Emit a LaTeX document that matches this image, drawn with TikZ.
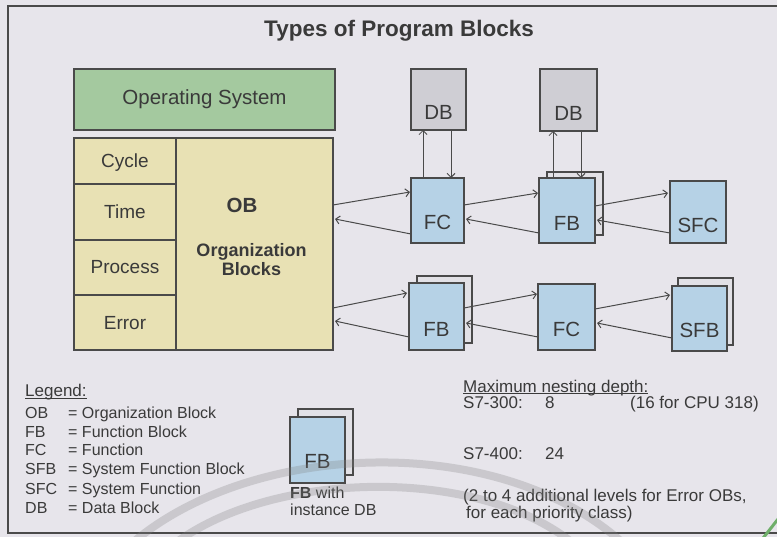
\documentclass[tikz,border=0pt]{standalone}
\usepackage{fontspec}
\setmainfont{Liberation Sans}
\usetikzlibrary{arrows.meta}
\definecolor{bg}{HTML}{E7E5EB}
\definecolor{lc}{HTML}{4A4A4A}
\definecolor{txt}{HTML}{3A3A3A}
\definecolor{osg}{HTML}{A4C99F}
\definecolor{khaki}{HTML}{E8E1B4}
\definecolor{dbg}{HTML}{CFCED4}
\definecolor{blu}{HTML}{B6D2E6}
\definecolor{backc}{HTML}{E2E1E6}
\definecolor{wmgreen}{HTML}{6FAF6A}
\newcommand\pxfont[1]{\fontsize{#1}{#1}\selectfont}
\newcommand\ulbase[1]{\setbox0\hbox{#1}\rlap{\rule[-2pt]{\wd0}{0.8pt}}\box0}
\begin{document}
\begin{tikzpicture}[x=1pt,y=-1pt,
  blk/.style={draw=lc, line width=1.1pt, inner sep=0pt, outer sep=0pt, anchor=north west},
  tbox/.style={text=txt, inner sep=0pt, font=\pxfont{20.5}, anchor=base},
  tcell/.style={text=txt, inner sep=0pt, font=\pxfont{19}, anchor=base},
  tleg/.style={text=txt, inner sep=0pt, font=\pxfont{16}, anchor=base west},
  tright/.style={text=txt, inner sep=0pt, font=\pxfont{17}, anchor=base west},
  arr/.style={draw=lc, line width=1pt, -{Straight Barb[length=4pt,width=8pt]}},
  wm/.style={draw=gray, line width=8pt, opacity=0.28}
]
\useasboundingbox (0,0) rectangle (777,537);
\fill[bg] (0,0) rectangle (777,537);
\draw[lc, line width=1.2pt] (8,6) rectangle (800,533);

% title
\node[text=txt, inner sep=0pt, anchor=base, font=\pxfont{22.5}\bfseries] (title) at (399,37) {Types of Program Blocks};

% operating system
\node[blk, fill=osg, minimum width=261pt, minimum height=61pt] (os) at (74,69) {};
\node[text=txt, inner sep=0pt, font=\pxfont{20.5}] (ost) at (os.center) {Operating System};

% OB cells
\node[blk, fill=khaki, minimum width=102pt, minimum height=46pt] (cyc) at (74,138) {};
\node[blk, fill=khaki, minimum width=102pt, minimum height=56pt] (tim) at (74,184) {};
\node[blk, fill=khaki, minimum width=102pt, minimum height=55pt] (pro) at (74,240) {};
\node[blk, fill=khaki, minimum width=102pt, minimum height=55pt] (err) at (74,295) {};
\node[blk, fill=khaki, minimum width=157pt, minimum height=212pt] (ob) at (176,138) {};
\node[tcell] (cyct) at (125,168) {Cycle};
\node[tcell] (timt) at (125,219) {Time};
\node[tcell] (prot) at (125,274) {Process};
\node[tcell] (errt) at (125,330) {Error};
\node[text=txt, inner sep=0pt, anchor=base, font=\pxfont{20.5}\bfseries] (obt) at (242,213) {OB};
\node[text=txt, inner sep=0pt, anchor=base, font=\pxfont{18}\bfseries] (obt1) at (251.5,257) {Organization};
\node[text=txt, inner sep=0pt, anchor=base, font=\pxfont{18}\bfseries] (obt2) at (251.5,276) {Blocks};

% data blocks
\node[blk, fill=dbg, minimum width=55pt, minimum height=61pt] (db1) at (411,69) {};
\node[blk, fill=dbg, minimum width=57pt, minimum height=62pt] (db2) at (540,69) {};
\node[tbox] (db1t) at ([yshift=10pt]db1.south) {DB};
\node[tbox] (db2t) at ([yshift=10pt]db2.south) {DB};

% top row
\node[blk, fill=blu, minimum width=53pt, minimum height=65pt] (fc1) at (411,178) {};
\node[blk, fill=backc, minimum width=56pt, minimum height=63pt] (fb1b) at (547,172) {};
\node[blk, fill=blu, minimum width=56pt, minimum height=65pt] (fb1) at (539,178) {};
\node[blk, fill=blu, minimum width=56pt, minimum height=62pt] (sfc) at (670,181) {};
\node[tbox] (fc1t) at ([yshift=13pt]fc1.south) {FC};
\node[tbox] (fb1t) at ([yshift=12pt]fb1.south) {FB};
\node[tbox] (sfct) at ([yshift=10pt]sfc.south) {SFC};

% bottom row
\node[blk, fill=backc, minimum width=55pt, minimum height=67pt] (fb2b) at (417,276) {};
\node[blk, fill=blu, minimum width=55pt, minimum height=67pt] (fb2) at (409,283) {};
\node[blk, fill=blu, minimum width=57pt, minimum height=66pt] (fc2) at (538,284) {};
\node[blk, fill=backc, minimum width=55pt, minimum height=67pt] (sfbb) at (678,278) {};
\node[blk, fill=blu, minimum width=55pt, minimum height=65pt] (sfb) at (672,286) {};
\node[tbox] (fb2t) at ([yshift=13pt]fb2.south) {FB};
\node[tbox] (fc2t) at ([yshift=13pt]fc2.south) {FC};
\node[tbox] (sfbt) at ([yshift=13pt]sfb.south) {SFB};

% arrows top
\draw[arr] ([yshift=-67pt]ob.north east) -- ([xshift=-1pt,yshift=-14pt]fc1.north west);
\draw[arr] ([yshift=-56pt]fc1.north west) -- ([xshift=2pt,yshift=-81pt]ob.north east);
\draw[arr] ([yshift=-27pt]fc1.north east) -- ([xshift=-1pt,yshift=-15pt]fb1.north west);
\draw[arr] ([yshift=-55pt]fb1.north west) -- ([xshift=2pt,yshift=-41pt]fc1.north east);
\draw[arr] ([yshift=-28pt]fb1.north east) -- ([xshift=-2pt,yshift=-12pt]sfc.north west);
\draw[arr] ([yshift=-52pt]sfc.north west) -- ([xshift=2pt,yshift=-42pt]fb1.north east);
\draw[arr, line width=0.8pt] ([xshift=12pt]fc1.north west) -- ([xshift=12pt]db1.south west);
\draw[arr] ([xshift=40pt]db1.south west) -- ([xshift=40pt]fc1.north west);
\draw[arr, line width=0.8pt] ([xshift=14pt]fb1.north west) -- ([xshift=13pt]db2.south west);
\draw[arr] ([xshift=41pt]db2.south west) -- ([xshift=42pt]fb1.north west);

% arrows bottom
\draw[arr] ([yshift=42pt]ob.south east) -- ([xshift=-2pt,yshift=-10pt]fb2.north west);
\draw[arr] ([yshift=-54pt]fb2.north west) -- ([xshift=2pt,yshift=29pt]ob.south east);
\draw[arr] ([yshift=-25pt]fb2.north east) -- ([xshift=-1pt,yshift=-10pt]fc2.north west);
\draw[arr] ([yshift=-53pt]fc2.north west) -- ([xshift=2pt,yshift=-40pt]fb2.north east);
\draw[arr] ([yshift=-25pt]fc2.north east) -- ([xshift=-2pt,yshift=-9pt]sfb.north west);
\draw[arr] ([yshift=-52pt]sfb.north west) -- ([xshift=2pt,yshift=-39pt]fc2.north east);

% legend
\node[text=txt, inner sep=0pt, anchor=base west, font=\pxfont{17}] (leg) at (25,397) {\ulbase{Legend:}};
\node[tleg] (l1a) at (25,418) {OB};
\node[tleg] (l1b) at (68,418) {= Organization Block};
\node[tleg] (l2a) at (25,437) {FB};
\node[tleg] (l2b) at (68,437) {= Function Block};
\node[tleg] (l3a) at (25,456) {FC};
\node[tleg] (l3b) at (68,456) {= Function};
\node[tleg] (l4a) at (25,475) {SFB};
\node[tleg] (l4b) at (68,475) {= System Function Block};
\node[tleg] (l5a) at (25,494) {SFC};
\node[tleg] (l5b) at (68,494) {= System Function};
\node[tleg] (l6a) at (25,513) {DB};
\node[tleg] (l6b) at (68,513) {= Data Block};

\node[blk, fill=backc, minimum width=55pt, minimum height=66pt] (lfbb) at (298,409) {};
\node[blk, fill=blu, minimum width=55pt, minimum height=66pt] (lfb) at (290,417) {};
\node[tbox] (lfbt) at ([yshift=15pt]lfb.south) {FB};
\node[tleg] (lfb1) at (290,498) {\textbf{FB} with};
\node[tleg] (lfb2) at (290,515) {instance DB};

% nesting depth
\node[tright] (nd) at (463,392) {\ulbase{Maximum nesting depth:}};
\node[tright] (s3) at (463,409) {S7-300:};
\node[tright] (s3v) at (545,409) {8};
\node[tright] (s3c) at (630,409) {(16 for CPU 318)};
\node[tright] (s4) at (463,460) {S7-400:};
\node[tright] (s4v) at (545,460) {24};
\node[tright] (n1) at (463,501) {(2 to 4 additional levels for Error OBs,};
\node[tright] (n2) at (466,518) {for each priority class)};

% watermark arcs
\draw[wm] (130,545) .. controls (250,440) and (500,430) .. (625,545);
\draw[wm] (173,545) .. controls (270,470) and (480,465) .. (575,545);
\draw[draw=wmgreen, line width=3pt] (760,542) -- (782,514);
\end{tikzpicture}
\end{document}
